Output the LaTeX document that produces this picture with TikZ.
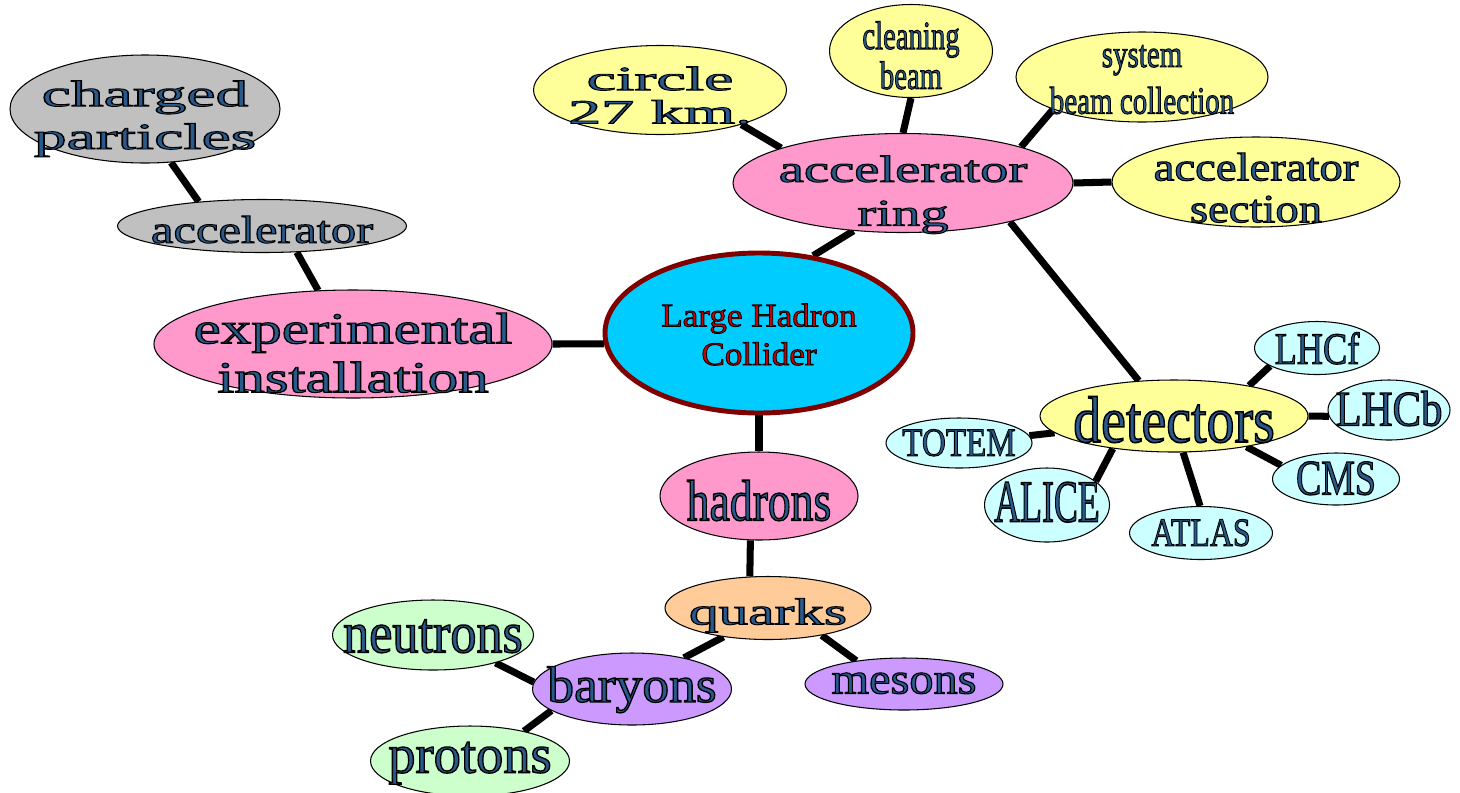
\documentclass[tikz,border=0pt]{standalone}
\usepackage{fontspec}
\setmainfont{Liberation Serif}
\newfontfamily\inkfont[FakeBold=2.5]{Liberation Serif}
\usepackage{graphicx}
\usepackage{tikz}
\usetikzlibrary{shapes.geometric,backgrounds}
\definecolor{inkblue}{HTML}{2A5A8C}
\definecolor{bubpink}{HTML}{FF99CC}
\definecolor{bubyellow}{HTML}{FFFF99}
\definecolor{bubgray}{HTML}{C0C0C0}
\definecolor{bubcyan}{HTML}{CCFFFF}
\definecolor{bubgreen}{HTML}{CCFFCC}
\definecolor{bubpeach}{HTML}{FFCC99}
\definecolor{bubviolet}{HTML}{CC99FF}
\definecolor{hubcyan}{HTML}{00CCFF}
\definecolor{hubred}{HTML}{800000}
\definecolor{titlered}{HTML}{CC0000}
% black rim round the glyphs
\newcommand\rim{\special{pdf:literal direct 0 0 0 RG}}

\begin{document}
\begin{tikzpicture}[x=0.02cm,y=-0.02cm,
  bub/.style={ellipse, draw=black, line width=0.6pt, inner sep=0pt},
  link/.style={line width=4pt}]
  \useasboundingbox (0,0) rectangle (1460,792);
  % hub
  \node[bub, fill=hubcyan, draw=hubred, line width=2.8pt,
    minimum width=308*0.02cm, minimum height=160*0.02cm,
    label={[text=titlered, yshift=-5*0.02cm, font=\inkfont\fontsize{18.7}{22}\selectfont]center:\rim\scalebox{1.07}[1]{\begin{tabular}{@{}c@{}}Large Hadron\\Collider\end{tabular}}}] (lhc) at (759,333) {};
  % bubbles: name/x/y/width/height/fill/font size/skip/xscale/drop/text
  \foreach \nm/\x/\y/\w/\h/\col/\fs/\ls/\sx/\dy/\txt in {
    charged/145/109/270/108/bubgray/21/24.4/1.78/10/{charged\\particles},
    gacc/262/226/289/53/bubgray/22/25/1.31/8/{accelerator},
    expinst/353/344/398/108/bubpink/25/27.8/1.39/14/{experimental\\installation},
    ring/903/183/340/99/bubpink/21.5/25/1.5/12/{accelerator\\ring},
    circ/660/90/253/89/bubyellow/19.3/18.7/1.95/10/{circle\\27 km.},
    clean/911/51/163/93/bubyellow/22.7/22.7/0.72/10/{cleaning\\beam},
    sysbeam/1142/77/252/90/bubyellow/22/26.6/0.75/4/{system\\beam collection},
    section/1256/182/288/90/bubyellow/22.7/23.8/1.17/11/{accelerator\\section},
    det/1174/416/268/72/bubyellow/37.4/40/0.85/12/{detectors},
    lhcf/1317/348/125/53/bubcyan/25.5/28/0.81/6/{LHCf},
    lhcb/1389/410/122/60/bubcyan/28.3/30/0.86/5/{LHCb},
    cms/1336/479/127/52/bubcyan/28.3/30/0.76/5/{CMS},
    atlas/1201/533/143/53/bubcyan/22.7/25/0.8/4/{ATLAS},
    alice/1047/505/125/74/bubcyan/34/36/0.6/4/{ALICE},
    totem/959/443/146/50/bubcyan/22.7/25/0.83/4/{TOTEM},
    hadrons/759/496/198/88/bubpink/32.9/35/0.79/12/{hadrons},
    quarks/768/608/206/63/bubpeach/21.5/24/1.57/8/{quarks},
    baryons/632/689/199/72/bubviolet/29/31/1.05/2/{baryons},
    mesons/904/684/198/52/bubviolet/25/27/1.1/0/{mesons},
    neutrons/433/635/201/70/bubgreen/33/35/0.9/5/{neutrons},
    protons/470/761/199/70/bubgreen/31/33/1.0/0/{protons}%
  }{
    \node[bub, fill=\col, minimum width=\w*0.02cm, minimum height=\h*0.02cm,
      label={[text=inkblue, yshift=-\dy*0.02cm, font=\inkfont\fontsize{\fs}{\ls}\selectfont]center:\rim\scalebox{\sx}[1]{\begin{tabular}{@{}c@{}}\txt\end{tabular}}}] (\nm) at (\x,\y) {};
  }
  % links
  \begin{scope}[on background layer]
    \foreach \a/\b in {charged.-64/gacc.159, gacc.-37/expinst.123, expinst.0/lhc.184,
      lhc.55/ring.224, lhc.-90/hadrons.90, ring.164/circ.-23, ring.90/clean.-90,
      ring.17/sysbeam.200, ring.0/section.180, ring.-20/det.135, det.22/lhcf.201,
      det.0/lhcb.186, det.-23/cms.166, det.-76/atlas.92, det.208/alice.26,
      det.188/totem.6, hadrons.-101/quarks.120, quarks.213/baryons.31,
      quarks.-27/mesons.154, baryons.176/neutrons.-24, baryons.195/protons.29}
      \draw[link] (\a) -- (\b);
  \end{scope}
\end{tikzpicture}
\end{document}
